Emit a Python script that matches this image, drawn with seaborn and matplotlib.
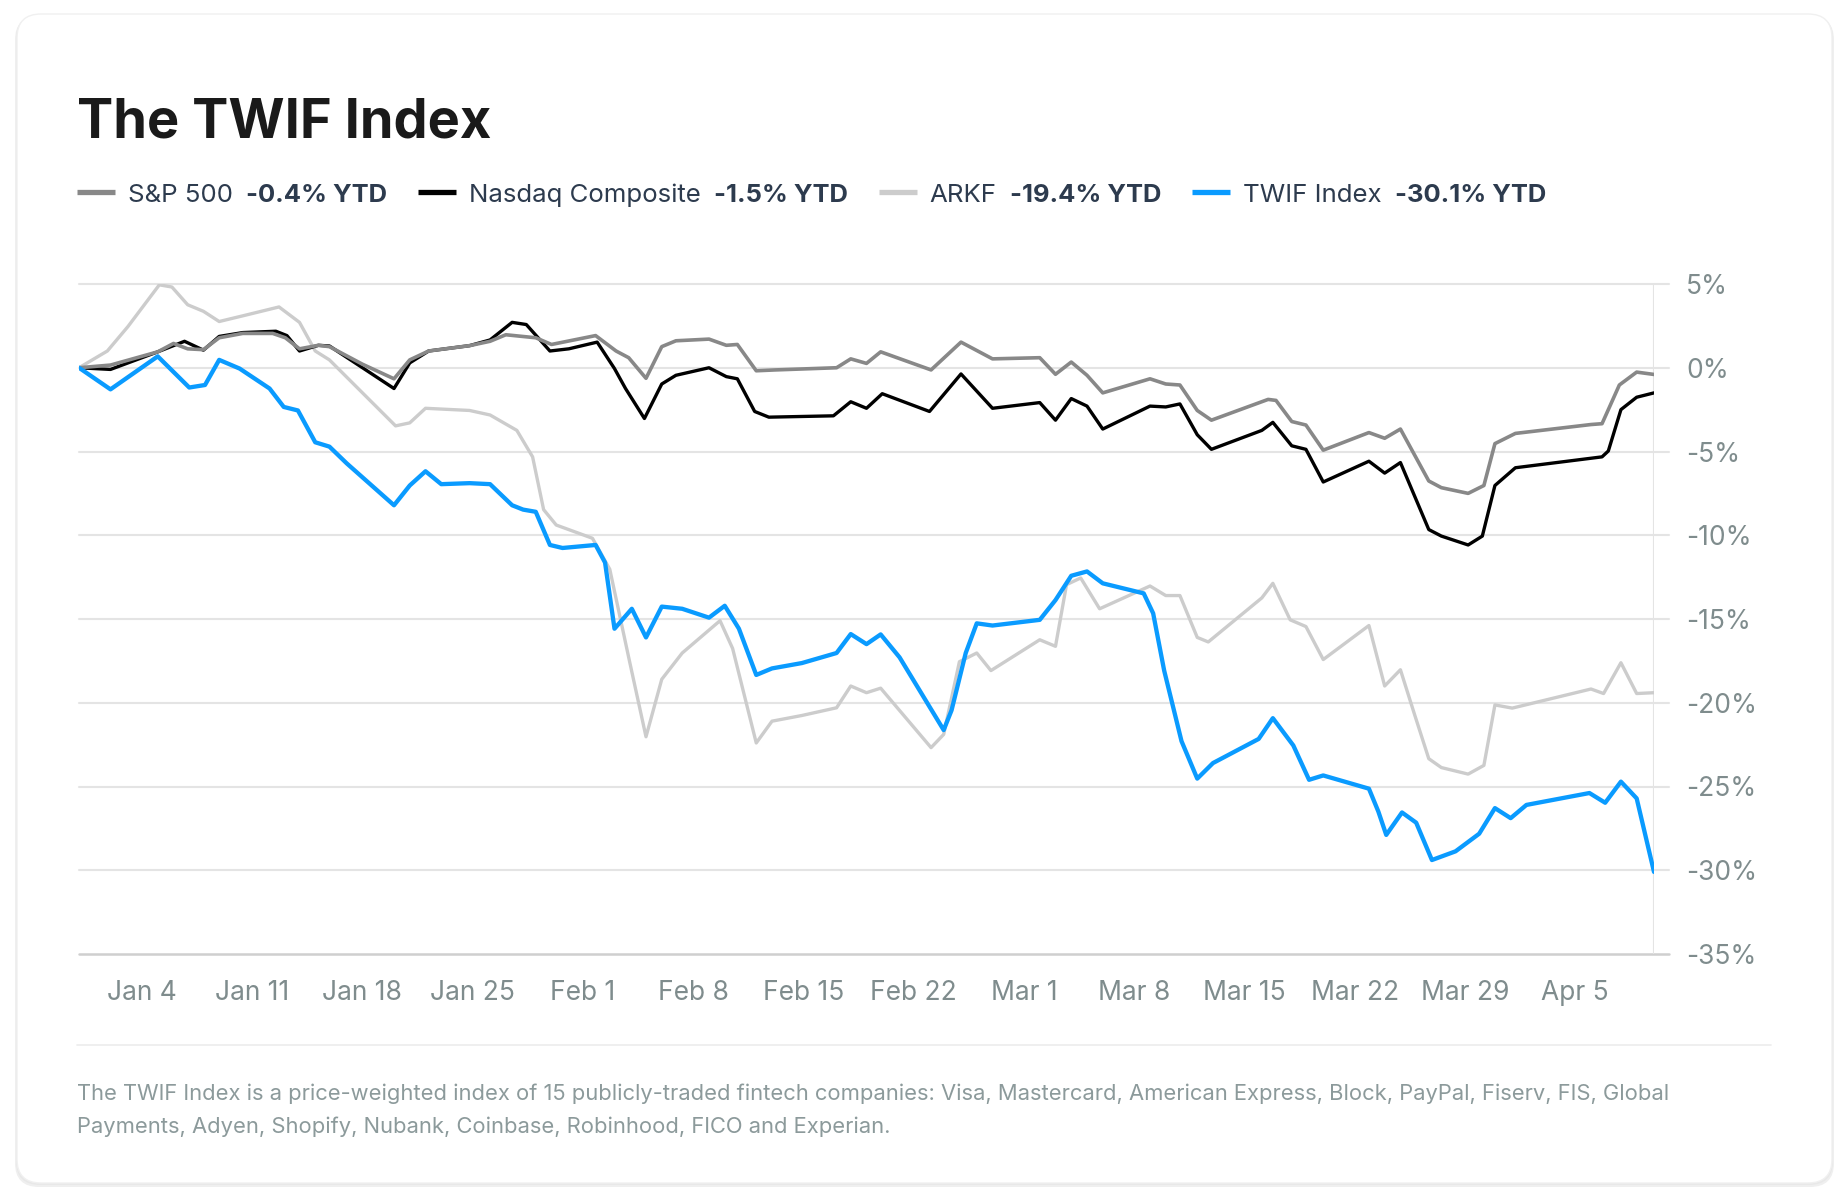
import pandas as pd
import matplotlib.pyplot as plt
import matplotlib.transforms as mtransforms
import seaborn as sns
from matplotlib.lines import Line2D
from matplotlib.patches import FancyBboxPatch

# YTD % change; x is days after Dec 31
start = pd.Timestamp("2025-12-31")

sp_days = [0, 2, 5, 6, 6.9, 7.9, 8.9, 10.4, 12.3, 13.1, 14.0, 15.2, 15.9, 18.0, 20.0, 21.0, 22.2,
           24.8, 26.1, 27.1, 29.0, 30.0, 32.8, 34.1, 34.9, 36.0, 37.0, 37.9, 40.0, 41.1, 41.8, 43.0,
           44.2, 48.1, 49.0, 50.0, 50.9, 54.1, 56.0, 58.0, 61.0, 62.0, 63.0, 64.0, 65.0, 68.0, 69.0,
           69.9, 71.0, 71.9, 75.5, 76.0, 77.0, 77.9, 79.0, 81.9, 82.9, 83.9, 85.7, 86.5, 88.2, 89.2,
           89.9, 91.2, 96.0, 96.7, 97.8, 98.9, 100]
sp_vals = [0, 0.16, 0.95, 1.45, 1.13, 1.08, 1.79, 2.05, 2.05, 1.79, 1.13, 1.34, 1.26, 0.21, -0.66,
           0.47, 1.0, 1.32, 1.58, 1.97, 1.79, 1.39, 1.92, 1.0, 0.6, -0.63, 1.26, 1.61, 1.71, 1.34,
           1.39, -0.18, -0.13, 0.0, 0.53, 0.26, 0.95, -0.13, 1.53, 0.53, 0.6, -0.39, 0.34, -0.45,
           -1.5, -0.66, -0.97, -1.03, -2.55, -3.13, -1.89, -1.95, -3.21, -3.42, -4.92, -3.87, -4.21,
           -3.66, -6.76, -7.16, -7.5, -7.03, -4.53, -3.92, -3.39, -3.34, -1.03, -0.26, -0.4]

nq_days = [0, 2, 5, 6.7, 7.9, 8.9, 10.4, 12.5, 13.2, 14.0, 15.2, 15.9, 18.0, 20.0, 21.0, 22.2,
           24.8, 26.1, 27.5, 28.4, 29.9, 31.1, 32.9, 34.0, 34.7, 35.9, 37.0, 37.9, 40.0, 41.1, 41.8,
           42.9, 43.8, 47.9, 49.0, 50.0, 51.0, 54.0, 56.0, 58.0, 61.0, 62.0, 63.0, 64.0, 65.0, 68.0,
           69.0, 69.9, 71.0, 71.9, 75.1, 75.8, 77.0, 77.9, 79.0, 81.9, 82.9, 83.9, 85.7, 86.5, 88.2,
           89.1, 89.9, 91.2, 96.7, 97.1, 97.9, 98.9, 100]
nq_vals = [0, -0.1, 0.95, 1.58, 1.05, 1.87, 2.1, 2.18, 1.92, 1.0, 1.34, 1.3, 0.0, -1.24, 0.29, 1.0,
           1.32, 1.66, 2.71, 2.58, 1.0, 1.13, 1.53, -0.05, -1.24, -3.03, -0.97, -0.45, 0.0, -0.53,
           -0.66, -2.61, -2.95, -2.87, -2.03, -2.42, -1.55, -2.61, -0.37, -2.42, -2.08, -3.13, -1.84,
           -2.29, -3.66, -2.29, -2.34, -2.16, -4.0, -4.87, -3.74, -3.26, -4.66, -4.87, -6.82, -5.58,
           -6.29, -5.66, -9.66, -10.05, -10.58, -10.05, -7.03, -5.97, -5.32, -4.97, -2.5, -1.76, -1.5]

arkf_days = [0, 1.8, 3.1, 5.1, 5.9, 6.9, 7.9, 8.9, 10.4, 12.7, 14.0, 15.0, 15.9, 18.0, 20.1, 21.0,
             22.0, 24.8, 26.1, 27.8, 28.8, 29.5, 30.3, 32.6, 33.7, 34.9, 36.0, 37.0, 38.3, 40.7,
             41.5, 43.0, 44.0, 45.9, 48.1, 49.0, 50.0, 50.9, 54.1, 54.9, 55.9, 57.0, 57.9, 61.0,
             62.0, 62.7, 63.6, 64.8, 68.0, 69.0, 69.9, 71.0, 71.7, 75.1, 75.8, 76.9, 77.9, 79.0,
             81.9, 82.9, 83.9, 84.8, 85.7, 86.5, 88.2, 89.2, 89.9, 91.0, 96.0, 96.8, 97.9, 98.9, 100]
arkf_vals = [0, 1.0, 2.45, 4.95, 4.82, 3.76, 3.37, 2.76, 3.1, 3.63, 2.71, 1.0, 0.47, -1.5, -3.47,
             -3.29, -2.42, -2.55, -2.82, -3.74, -5.32, -8.47, -9.39, -10.18, -12.03, -17.29, -22.03,
             -18.6, -17.03, -15.1, -16.76, -22.4, -21.1, -20.76, -20.3, -19.0, -19.4, -19.13, -22.68,
             -21.89, -17.55, -17.03, -18.08, -16.24, -16.63, -12.95, -12.55, -14.39, -13.03, -13.6,
             -13.6, -16.1, -16.37, -13.74, -12.87, -15.05, -15.45, -17.42, -15.39, -19.0, -18.03,
             -20.71, -23.34, -23.87, -24.26, -23.74, -20.13, -20.32, -19.18, -19.45, -17.61, -19.45,
             -19.4]

twif_days = [0, 2.0, 5.0, 7.0, 8.0, 8.9, 10.2, 12.1, 13.0, 13.9, 15.0, 15.9, 17.0, 20.0, 21.0, 22.0,
             23.0, 24.8, 26.1, 27.5, 28.2, 29.0, 29.9, 30.7, 32.8, 33.4, 34.0, 35.1, 36.0, 37.0,
             38.3, 40.0, 41.0, 41.9, 43.0, 44.0, 45.9, 48.1, 49.0, 50.0, 50.9, 52.1, 54.9, 55.4,
             56.3, 57.0, 58.0, 61.0, 62.0, 63.0, 64.0, 65.0, 67.6, 68.2, 68.9, 70.0, 71.0, 72.0,
             74.9, 75.8, 77.1, 78.1, 79.0, 81.9, 82.5, 83.0, 84.0, 84.9, 85.9, 87.4, 88.9, 89.9,
             90.9, 91.9, 95.9, 96.9, 97.9, 98.9, 100]
twif_vals = [0, -1.29, 0.68, -1.18, -1.03, 0.47, -0.05, -1.24, -2.34, -2.55, -4.45, -4.71, -5.71,
             -8.21, -7.03, -6.18, -6.95, -6.89, -6.95, -8.21, -8.47, -8.6, -10.58, -10.76, -10.58,
             -11.63, -15.58, -14.39, -16.1, -14.26, -14.39, -14.92, -14.21, -15.58, -18.34, -17.95,
             -17.63, -17.03, -15.9, -16.5, -15.92, -17.29, -21.63, -20.45, -17.03, -15.26, -15.39,
             -15.05, -13.87, -12.42, -12.16, -12.87, -13.47, -14.66, -18.08, -22.29, -24.53, -23.6,
             -22.16, -20.92, -22.55, -24.6, -24.34, -25.13, -26.5, -27.89, -26.55, -27.16, -29.39,
             -28.87, -27.82, -26.29, -26.89, -26.1, -25.39, -25.97, -24.71, -25.71, -30.1]

legend_names = ["S&P 500", "Nasdaq Composite", "ARKF", "TWIF Index"]
legend_ytd = ["-0.4% YTD", "-1.5% YTD", "-19.4% YTD", "-30.1% YTD"]
colors = ["#888888", "#000000", "#cccccc", "#0a9bff"]

y_ticks = [5, 0, -5, -10, -15, -20, -25, -30, -35]
x_tick_days = [4, 11, 18, 25, 32, 39, 46, 53, 60, 67, 74, 81, 88, 95]

footnote_lines = ["The TWIF Index is a price-weighted index of 15 publicly-traded fintech companies: Visa, "
                  "Mastercard, American Express, Block, PayPal, Fiserv, FIS, Global",
                  "Payments, Adyen, Shopify, Nubank, Coinbase, Robinhood, FICO and Experian."]

sns.set_style("white")
plt.rcParams["font.family"] = ["Inter", "DejaVu Sans"]

W, H = 1848, 1202
fig = plt.figure(figsize=(W / 100, H / 100), dpi=100)
fig.patch.set_facecolor("white")


def fx(px):
    return px / W


def fy(py):
    return 1 - py / H


# card with soft shadow
ident = mtransforms.IdentityTransform()
for off, col in [(4, "#efefef"), (2, "#e8e8e8")]:
    fig.add_artist(FancyBboxPatch((17 - off / 2, H - 1183 - off), 1815 + off, 1169 + off / 2,
                                  boxstyle="round,pad=0,rounding_size=24", transform=ident,
                                  facecolor=col, edgecolor="none", zorder=-6))
fig.add_artist(FancyBboxPatch((17, H - 1183), 1815, 1169, boxstyle="round,pad=0,rounding_size=24",
                              transform=ident, facecolor="white", edgecolor="#f0f0f0", lw=1, zorder=-5))

ax = fig.add_axes([fx(79), fy(954), fx(1654 - 79), (954 - 284) / H])
ax.set_facecolor("none")

series = [(arkf_days, arkf_vals, colors[2], 2.4),
          (nq_days, nq_vals, colors[1], 2.4),
          (sp_days, sp_vals, colors[0], 2.6),
          (twif_days, twif_vals, colors[3], 3.1)]
for days, vals, col, lw in series:
    df = pd.DataFrame({"date": start + pd.to_timedelta(days, unit="D"), "ytd": vals})
    sns.lineplot(data=df, x="date", y="ytd", ax=ax, color=col, linewidth=lw, sort=False,
                 solid_joinstyle="round", solid_capstyle="round", zorder=3)

x0, x1 = start, start + pd.Timedelta(days=100)
ax.set_xlim(x0, x1)
ax.set_ylim(-35, 5)

for v in y_ticks:
    if v == -35:
        ax.axhline(v, xmin=0, xmax=1.0095, color="#cfcfcf", lw=1.8, clip_on=False, zorder=1)
    else:
        ax.axhline(v, xmin=0, xmax=1.0095, color="#e4e4e4", lw=1.5, clip_on=False, zorder=1)
ax.axvline(x1, color="#e4e4e4", lw=1.5, zorder=1)

for s in ax.spines.values():
    s.set_visible(False)

tick_dates = [start + pd.Timedelta(days=d) for d in x_tick_days]
ax.set_xticks(tick_dates)
ax.set_xticklabels([f"{d:%b} {d.day}" for d in tick_dates])
ax.yaxis.tick_right()
ax.set_yticks(y_ticks)
ax.set_yticklabels([f"{v}%" for v in y_ticks])
ax.tick_params(axis="y", length=0, pad=23, labelsize=19, labelcolor="#7f8c8d")
ax.tick_params(axis="x", length=0, pad=19, labelsize=19, labelcolor="#7f8c8d")
ax.set_xlabel("")
ax.set_ylabel("")
ax.grid(False)

# title
fig.text(fx(77), fy(138), "The TWIF Index", fontsize=39, weight="bold", color="#1a1a1a",
         va="baseline", ha="left")

# legend row
r = fig.canvas.get_renderer()
x = 77
txt_col = "#2d3b4e"
for name, ytd, col in zip(legend_names, legend_ytd, colors):
    fig.add_artist(Line2D([fx(x), fx(x + 38)], [fy(192), fy(192)], color=col, lw=3.8,
                          solid_capstyle="butt"))
    x += 38 + 13
    t = fig.text(fx(x), fy(202), name, fontsize=18.6, color=txt_col, va="baseline", ha="left")
    x += t.get_window_extent(r).width + 13
    t = fig.text(fx(x), fy(202), ytd, fontsize=18.4, weight="bold", color=txt_col,
                 va="baseline", ha="left")
    x += t.get_window_extent(r).width + 31

# separator and footnote
fig.add_artist(Line2D([fx(77), fx(1771)], [fy(1044.5), fy(1044.5)], color="#ececec", lw=1.2))
for i, line in enumerate(footnote_lines):
    fig.text(fx(77), fy(1100 + 33 * i), line, fontsize=15.8, color="#8c9a9b",
             va="baseline", ha="left")

fig.savefig("out.png", dpi=100, facecolor="white")
